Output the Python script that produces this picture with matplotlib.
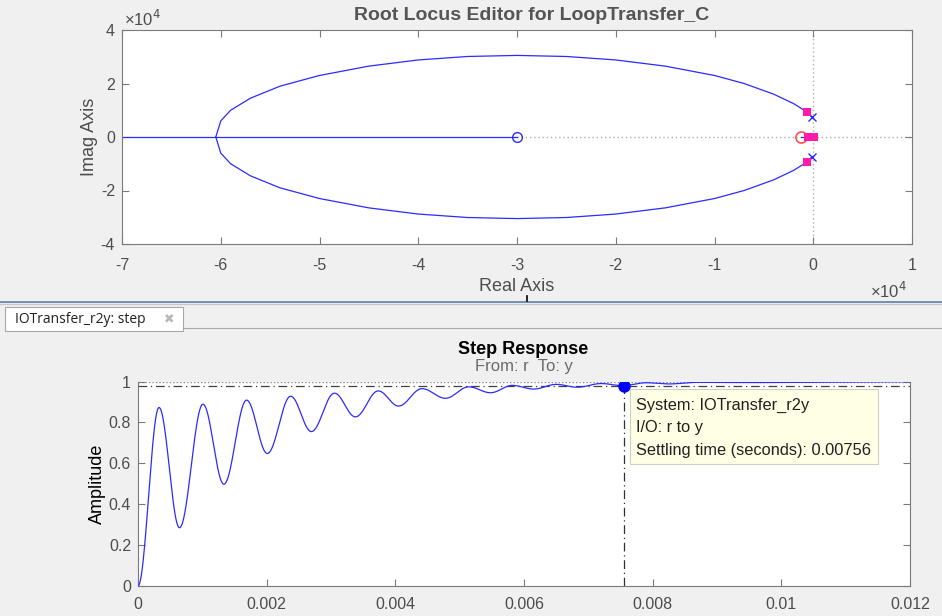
import numpy as np
import matplotlib
matplotlib.use("Agg")
import matplotlib.pyplot as plt
from matplotlib.patches import Rectangle
from matplotlib.lines import Line2D
from matplotlib.ticker import FuncFormatter

plt.rcParams['font.family'] = ['Liberation Sans', 'DejaVu Sans']
plt.rcParams['axes.unicode_minus'] = False

# ---------------- Root locus data (real / imag, in plain units) ----------------
arc_x = [-150, -600, -2000, -4000, -7000, -10000, -15000, -20000, -25000, -30000,
         -35000, -40000, -45000, -50000, -54000, -57000, -59000, -60000, -60500]
arc_y = [7500, 9300, 12500, 16000, 20000, 23000, 26500, 28800, 30100, 30500,
         30100, 28800, 26500, 23000, 19000, 14500, 10000, 6000, 0]
real_branch_x = [-70000, -30000]
plant_zero = [-30000]
plant_poles_re = [-150, -150]
plant_poles_im = [7500, -7500]
comp_zero = [-1200]
cl_poles_re = [-600, -600, -500, -200, 100]
cl_poles_im = [9300, -9300, 0, 0, 0]

# ---------------- Step response extrema (time s, amplitude) ----------------
step_t = [0, 0.000327, 0.000645, 0.00101, 0.001335, 0.001688, 0.00201, 0.002373,
          0.002695, 0.003053, 0.00338, 0.003734, 0.00405, 0.004414, 0.00478,
          0.00514, 0.00548, 0.00582, 0.00615, 0.0065, 0.00683, 0.0072, 0.00753,
          0.0079, 0.00825, 0.0087, 0.0095, 0.012]
step_y = [0, 0.873, 0.285, 0.889, 0.498, 0.909, 0.648, 0.928, 0.755, 0.943,
          0.827, 0.954, 0.880, 0.965, 0.918, 0.974, 0.945, 0.981, 0.963, 0.986,
          0.972, 0.990, 0.980, 0.994, 0.988, 0.996, 0.995, 0.999]
settle_t = 0.00756
settle_y = 0.98
x_ticks = [0, 0.002, 0.004, 0.006, 0.008, 0.01, 0.012]
y_ticks = [0, 0.2, 0.4, 0.6, 0.8, 1]

W, H = 942, 616
fig = plt.figure(figsize=(W / 100, H / 100), dpi=100, facecolor='#f0f0f0')

def fx(x):
    return x / W

def fy(y):
    return 1 - y / H

GRAY = '#4d4d4d'
SPINE = '#7a7a7a'
BLUE = '#2b2bff'
TICK_FS = 11.5
LABEL_FS = 13

# ---------------- Top axes: root locus ----------------
ax1 = fig.add_axes([fx(122), fy(244), (912 - 122) / W, (244 - 30) / H])
ax1.set_facecolor('white')
ax1.plot(arc_x, arc_y, color=BLUE, lw=0.9)
ax1.plot(arc_x, [-v for v in arc_y], color=BLUE, lw=0.9)
ax1.plot(real_branch_x, [0, 0], color=BLUE, lw=0.9)
ax1.plot([comp_zero[0], cl_poles_re[2]], [0, 0], color=BLUE, lw=0.9)
ax1.axhline(0, xmin=(plant_zero[0] + 70000) / 80000, color='#b0b0b0', lw=1, ls=(0, (1, 2)), zorder=0)
ax1.axvline(0, color='#b0b0b0', lw=1, ls=(0, (1, 2)), zorder=0)
ax1.plot(plant_zero, [0], 'o', mfc='none', mec=BLUE, ms=7, mew=1)
ax1.plot(plant_poles_re, plant_poles_im, 'x', color=BLUE, ms=6, mew=1)
ax1.plot(comp_zero, [0], 'o', mfc='none', mec='#ff5050', ms=8, mew=1.2)
ax1.plot(cl_poles_re, cl_poles_im, 's', color='#ff1aa8', ms=6, mew=0)
ax1.set_xlim(-70000, 10000)
ax1.set_ylim(-40000, 40000)
ax1.set_xticks(np.arange(-70000, 10001, 10000))
ax1.set_yticks(np.arange(-40000, 40001, 20000))
fmt = FuncFormatter(lambda v, p: f'{v / 1e4:g}')
ax1.xaxis.set_major_formatter(fmt)
ax1.yaxis.set_major_formatter(fmt)
ax1.tick_params(direction='in', top=True, right=True, length=5, width=0.8,
                colors=SPINE, labelcolor=GRAY, labelsize=TICK_FS, pad=5)
ax1.tick_params(axis='x', pad=10)
for s in ax1.spines.values():
    s.set_color(SPINE)
    s.set_linewidth(0.8)
ax1.set_xlabel('Real Axis', fontsize=LABEL_FS, color=GRAY, labelpad=4)
ax1.set_ylabel('Imag Axis', fontsize=LABEL_FS, color=GRAY, labelpad=2)
fig.text(fx(532), fy(15), 'Root Locus Editor for LoopTransfer_C', fontsize=14,
         fontweight='bold', color='#555555', ha='center', va='center')
fig.text(fx(124), fy(19), '×10$^4$', fontsize=12, color=GRAY, ha='left', va='center')
fig.text(fx(870), fy(291), '×10$^4$', fontsize=12, color=GRAY, ha='left', va='center')

# ---------------- Tab strip between panels ----------------
fig.add_artist(Line2D([0, 1], [fy(301.5), fy(301.5)], transform=fig.transFigure,
                      color='#5a7fae', lw=1.2))
fig.add_artist(Line2D([0, 1], [fy(304), fy(304)], transform=fig.transFigure,
                      color='#c8c8c8', lw=1))
fig.add_artist(Line2D([fx(527), fx(527)], [fy(296.5), fy(300.5)], transform=fig.transFigure,
                      color='black', lw=1.2))
fig.add_artist(Rectangle((fx(5), fy(331)), (183 - 5) / W, (331 - 307) / H,
                         transform=fig.transFigure, facecolor='white',
                         edgecolor='#a8a8a8', lw=0.8))
fig.add_artist(Line2D([fx(183), 1], [fy(328), fy(328)], transform=fig.transFigure,
                      color='#a8a8a8', lw=0.8))
fig.text(fx(15), fy(320), 'IOTransfer_r2y: step', fontsize=10, color='#202020',
         ha='left', va='center', family=['Open Sans', 'DejaVu Sans'])
fig.text(fx(169), fy(319), '✖', fontsize=9, color='#b8b8b8', ha='center', va='center',
         family=['DejaVu Sans'])

# ---------------- Bottom axes: step response ----------------
ax2 = fig.add_axes([fx(138), fy(586), (910 - 138) / W, (586 - 381.5) / H])
ax2.set_facecolor('white')

# smooth rendering between the read extrema (half-cosine segments)
tt, yy = [], []
for i in range(len(step_t) - 1):
    s = np.linspace(0, 1, 40, endpoint=False)
    w = (1 - np.cos(np.pi * s)) / 2
    tt.extend(step_t[i] + (step_t[i + 1] - step_t[i]) * s)
    yy.extend(step_y[i] + (step_y[i + 1] - step_y[i]) * w)
tt.append(step_t[-1])
yy.append(step_y[-1])
ax2.plot(tt, yy, color=BLUE, lw=0.9, zorder=3)

ax2.axhline(1.0, color='#8a8a8a', lw=1, ls=(0, (1, 1.5)), zorder=1)
ax2.axhline(settle_y, color='#404040', lw=0.9, ls=(0, (7, 3, 1, 3)), zorder=1)
ax2.plot([settle_t, settle_t], [0, settle_y], color='#303030', lw=0.9,
         ls=(0, (7, 3, 1, 3)), zorder=1)
ax2.plot([settle_t], [settle_y], 'o', color='#0000ff', ms=8, zorder=5)

ax2.set_xlim(0, 0.012)
ax2.set_ylim(0, 1.0)
ax2.set_xticks(x_ticks)
ax2.set_yticks(y_ticks)
ax2.xaxis.set_major_formatter(FuncFormatter(lambda v, p: f'{v:g}'))
ax2.yaxis.set_major_formatter(FuncFormatter(lambda v, p: f'{v:g}'))
ax2.tick_params(direction='in', right=True, top=False, length=5, width=0.8,
                colors=SPINE, labelcolor=GRAY, labelsize=TICK_FS, pad=5)
ax2.tick_params(axis='x', pad=8)
for s in ax2.spines.values():
    s.set_color(SPINE)
    s.set_linewidth(0.8)
ax2.spines['top'].set_visible(False)
ax2.set_ylabel('Amplitude', fontsize=LABEL_FS, color='black', labelpad=2)
fig.text(fx(523), fy(349), 'Step Response', fontsize=13, fontweight='bold',
         color='black', ha='center', va='center')
fig.text(fx(524), fy(367), 'From: r  To: y', fontsize=12, color='#6a6a6a',
         ha='center', va='center')

# data tip
fig.add_artist(Rectangle((fx(630), fy(464)), (878 - 630) / W, (464 - 389) / H,
                         transform=fig.transFigure, facecolor='#ffffe6',
                         edgecolor='#d0d0c0', lw=0.8, zorder=10))
for k, line in enumerate(['System: IOTransfer_r2y', 'I/O: r to y',
                          'Settling time (seconds): 0.00756']):
    fig.text(fx(636), fy(405 + 22.5 * k), line, fontsize=11.8, color='#202020',
             ha='left', va='center', zorder=11)

fig.savefig('out.png', dpi=100, facecolor=fig.get_facecolor())
